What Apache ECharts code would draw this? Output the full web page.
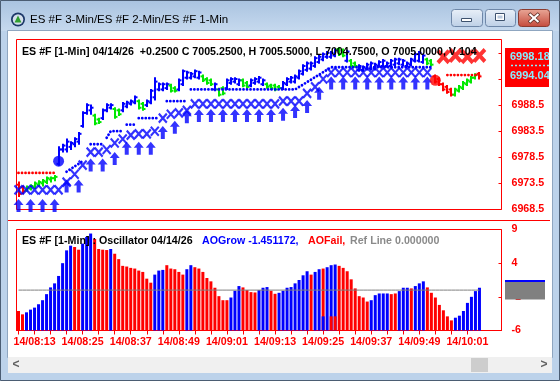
<!DOCTYPE html>
<html><head><meta charset="utf-8">
<script src="https://cdn.jsdelivr.net/npm/echarts@6/dist/echarts.min.js"></script>
<style>html,body{margin:0;padding:0;background:#bcd2ea;overflow:hidden}#c{width:560px;height:381px}</style>
</head><body><div id="c"></div>
<script>
// ---------- DATA ----------
const X_LABELS = ['14/08:13','14/08:25','14/08:37','14/08:49','14/09:01','14/09:13','14/09:25','14/09:37','14/09:49','14/10:01'];
const PRICE_TICKS = [6968.5, 6973.5, 6978.5, 6983.5, 6988.5, 6993.5, 6998.5];
const OSC_TICKS = [-6, -1, 4, 9];

const BAR_HIGH = [6973.75,6973.0,6973.0,6973.25,6973.75,6974.0,6974.25,6974.75,6974.75,6975.0,
6980.5,6981.0,6982.0,6981.5,6982.25,6983.25,6987.25,6988.75,6988.5,6986.75,
6986.0,6987.75,6988.75,6988.75,6988.0,6987.75,6989.0,6989.25,6989.5,6990.25,
6989.5,6989.0,6989.5,6991.5,6993.75,6992.75,6992.75,6992.75,6992.5,6992.0,
6993.5,6995.25,6995.0,6994.75,6995.25,6995.0,6994.25,6993.75,6993.5,6992.75,
6991.75,6992.0,6993.5,6993.75,6993.75,6993.5,6993.5,6993.0,6993.5,6993.75,
6994.0,6993.5,6992.75,6992.5,6992.5,6992.25,6993.0,6993.75,6994.0,6994.25,
6995.25,6996.25,6996.75,6996.75,6997.75,6998.0,6998.5,6998.75,6998.75,6999.25,
6999.5,6999.25,6999.0,6997.25,6996.75,6996.25,6996.0,6996.5,6996.75,6996.5,
6997.0,6997.25,6996.75,6997.25,6997.5,6997.5,6997.25,6996.75,6997.5,6998.5,
6998.75,6998.25,6997.5,6997.25,6994.25,6993.75,6992.75,6992.25,6991.75,6991.75,
6992.25,6993.0,6993.5,6994.0,6994.5,6994.75];
const BAR_LOW = [6971.0,6971.5,6972.0,6972.25,6972.5,6973.0,6973.0,6973.5,6973.75,6974.0,
6977.0,6979.5,6979.5,6980.0,6980.5,6981.0,6984.25,6986.75,6986.75,6984.75,
6985.0,6985.75,6987.25,6987.75,6986.0,6986.5,6987.25,6988.0,6988.5,6988.75,
6987.75,6987.5,6988.25,6988.75,6989.5,6991.25,6991.25,6991.5,6991.0,6991.0,
6991.25,6992.25,6993.5,6993.5,6993.75,6993.5,6993.0,6992.5,6992.25,6991.25,
6990.25,6990.5,6991.5,6992.5,6992.75,6992.25,6992.0,6991.75,6992.0,6992.5,
6992.75,6992.25,6991.75,6991.5,6991.25,6991.5,6991.5,6992.25,6992.75,6992.75,
6993.5,6994.25,6995.0,6995.25,6995.75,6996.5,6997.0,6997.5,6997.5,6997.75,
6998.0,6997.75,6996.75,6995.75,6995.75,6995.0,6995.0,6995.25,6995.25,6995.25,
6995.75,6995.75,6995.75,6995.75,6996.0,6996.25,6996.0,6995.75,6996.0,6996.75,
6996.75,6996.5,6996.25,6996.0,6992.75,6992.25,6991.25,6990.75,6990.25,6990.25,
6991.0,6991.5,6992.25,6992.75,6993.5,6993.5];
const BAR_OPEN = [6973.25,6972.75,6972.25,6972.5,6972.75,6973.25,6973.5,6973.75,6974.25,6974.5,
6977.25,6980.0,6980.0,6980.5,6981.0,6981.5,6984.5,6987.0,6987.5,6986.5,
6985.75,6986.0,6987.5,6988.0,6987.75,6987.5,6987.5,6988.25,6988.75,6989.0,
6989.25,6988.75,6988.5,6989.0,6990.0,6991.5,6991.5,6991.75,6992.25,6991.75,
6991.5,6992.5,6993.75,6993.75,6994.0,6993.75,6994.0,6993.5,6993.25,6991.5,
6991.5,6991.75,6991.75,6992.75,6993.0,6992.5,6993.25,6992.75,6992.25,6992.75,
6993.0,6992.5,6992.5,6992.25,6992.25,6992.0,6991.75,6992.5,6993.0,6993.0,
6993.75,6994.5,6995.25,6995.5,6996.0,6996.75,6997.25,6997.75,6997.75,6998.0,
6999.25,6999.0,6997.0,6997.0,6996.5,6995.25,6995.25,6995.5,6995.5,6995.5,
6996.0,6996.0,6996.0,6996.0,6996.25,6996.5,6996.25,6996.0,6996.25,6997.0,
6997.0,6996.75,6997.25,6997.0,6994.0,6993.5,6992.5,6992.0,6991.5,6990.5,
6991.25,6991.75,6992.5,6993.0,6993.75,6994.5];
const BAR_CLOSE = [6971.5,6972.0,6972.75,6973.0,6973.5,6973.75,6974.0,6974.5,6974.5,6974.75,
6980.0,6980.75,6981.5,6981.25,6982.0,6983.0,6987.0,6988.5,6988.0,6985.0,
6985.25,6987.5,6988.5,6988.5,6986.25,6986.75,6988.75,6989.0,6989.25,6990.0,
6988.0,6987.75,6989.25,6991.25,6993.0,6992.5,6992.5,6992.5,6991.25,6991.25,
6993.25,6995.0,6994.75,6994.5,6995.0,6994.75,6993.25,6992.75,6992.5,6992.5,
6990.5,6990.75,6993.25,6993.5,6993.5,6993.25,6992.25,6992.0,6993.25,6993.5,
6993.75,6993.25,6992.0,6991.75,6991.5,6991.75,6992.75,6993.5,6993.75,6994.0,
6995.0,6996.0,6996.5,6996.5,6997.5,6997.75,6998.25,6998.5,6998.5,6999.0,
6998.25,6998.0,6998.75,6996.0,6996.0,6996.0,6995.75,6996.25,6996.5,6996.25,
6996.75,6997.0,6996.5,6997.0,6997.25,6997.25,6997.0,6996.5,6997.25,6998.25,
6998.5,6998.0,6996.5,6996.25,6993.0,6992.5,6991.5,6991.0,6990.5,6991.5,
6992.0,6992.75,6993.25,6993.75,6994.25,6994.0];
// B = blue, G = green, R = red
const BAR_COLOR = ('RR'+'GGGGGGGG'+'BBBBBBBBB'+'GG'+'BBB'+'GG'+'BBBB'+'GG'+'BBBBBB'+'GG'+'BBBBBB'+'GGG'+'B'+'GG'+
  'BBBB'+'GG'+'BBBB'+'GGGG'+'BBBBBBBBBBBBBB'+'GG'+'B'+'GG'+'BBBBBBBBBBBBBBBBB'+'GG'+'RRRRR'+'GGGGGG'+'R').split('');

// dotted level lines: [bar index, price]
const DOT_BLUE_SEGS = [
  [[12,6975.75],[16,6977.75]],
  [[18,6981.0],[21,6981.0]],
  [[22,6982.25],[23,6983.5],[26,6983.5]],
  [[27,6984.75],[29,6984.75]],
  [[30,6986.0],[35,6986.0]],
  [[37,6989.25],[42,6989.25]],
  [[43,6991.5],[69,6991.5],[78,6995.75],[103,6995.75]]
];
const DOT_RED_SEGS = [
  [[0,6975.5],[9,6975.5]],
  [[107,6994.25],[115,6994.25]]
];
// 2-min cross chain
const CROSS_BLUE = [[0,6972.25],[2,6972.25],[4,6972.25],[6,6972.25],[8,6972.25],[10,6972.25],
  [12,6973.75],[14,6975.25],[16,6977.0],[18,6979.5],[20,6979.5],[22,6980.0],
  [24,6981.25],[26,6982.0],[28,6982.75],[30,6983.0],[32,6983.0],[34,6983.5],
  [36,6986.0],[38,6986.75],[40,6987.0],[42,6987.5],
  [44,6988.75],[46,6988.75],[48,6988.75],[50,6988.75],[52,6988.75],[54,6988.75],[56,6988.75],[58,6988.75],[60,6988.75],[62,6988.75],[64,6988.75],
  [66,6989.25],[68,6989.25],[70,6989.25],[72,6990.75],[74,6992.0],[76,6993.5],
  [78,6994.75],[80,6994.75],[82,6994.75],[84,6994.75],[86,6994.75],[88,6994.75],[90,6994.75],[92,6994.75],[94,6994.75],[96,6994.75],[98,6994.75],[100,6994.75],[102,6994.75]];
const CROSS_RED = [[106,6997.75],[109,6998.0],[112,6997.75],[115,6998.0]];
// 3-min up arrows: [bar index, tip price]
const ARROWS = [[0,6970.5],[3,6970.5],[6,6970.5],[9,6970.5],
  [12,6974.25],[15,6974.25],[18,6978.25],[21,6978.25],[24,6979.5],
  [27,6981.5],[30,6981.5],[33,6981.5],[36,6984.5],[39,6985.5],[42,6987.5],
  [45,6987.75],[48,6987.75],[51,6987.75],[54,6987.75],[57,6987.75],[60,6987.75],[63,6987.75],
  [66,6988.0],[69,6988.5],[72,6989.5],[75,6992.0],
  [78,6994.0],[81,6994.0],[84,6994.0],[87,6994.0],[90,6994.0],[93,6994.0],[96,6994.0],[99,6994.0],[102,6994.0]];
const DOT_BIG_BLUE = [[10,6977.75]];
const DOT_BIG_RED = [[104,6993.25]];

const OSC_VALUES = [-3.1,-3.6,-3.3,-2.9,-2.6,-2.1,-1.5,-0.6,0.4,1.0,
 2.1,4.0,5.9,6.6,6.4,6.0,6.9,7.9,8.4,7.6,
 6.1,6.0,5.95,6.1,5.4,4.6,3.6,3.5,3.3,3.2,
 2.9,2.7,1.7,1.1,2.3,2.9,3.0,3.7,3.2,3.1,
 2.7,2.3,3.1,3.7,3.4,3.2,2.7,1.8,1.3,0.35,
 -0.9,-1.5,-1.5,-1.1,-0.1,0.6,0.4,0.0,-0.3,-0.35,
 0.0,0.35,0.45,-0.1,-0.55,-0.4,-0.1,0.35,0.45,1.0,
 1.5,2.2,2.8,2.3,2.7,3.1,3.2,3.4,3.7,3.8,
 3.6,3.3,2.8,1.6,0.25,-0.9,-1.1,-1.7,-1.5,-0.75,
 -0.5,-0.5,-0.5,-0.6,-0.5,-0.15,0.35,0.35,0.25,0.6,
 1.0,1.3,0.4,-0.4,-1.1,-2.2,-3.0,-3.9,-4.5,-4.1,
 -3.8,-3.1,-1.9,-1.0,-0.15,0.35];
const OSC_COLOR = ('RR'+'BBBBBBBBBBBB'+'RR'+'BBB'+'RRRR'+'B'+'RRRRRRRRRR'+'BBB'+'RRRRR'+'BB'+'RRRRRRRRR'+'BBB'+'RRRR'+
  'BBB'+'RR'+'BBBBBBBB'+'R'+'BB'+'R'+'BBB'+'RRRRRRRR'+'BBBBB'+'RR'+'BBB'+'R'+'BBB'+'RRRRRRR'+'BBBBBBB').split('');
const OSC_OVERLAY = [[76,-3.9,'B'],[78,-3.9,'R'],[79,-3.9,'R']];
const REF_LINE = 0;

// ---------- BUILD ----------
const N_SLOTS = 121, START_MIN = 8*60+9;
const pad = n => (n<10?'0':'')+n;
const CATS = [];
for (let k=0;k<N_SLOTS;k++){const m=START_MIN+k;CATS.push('14/'+pad(Math.floor(m/60))+':'+pad(m%60));}
const COL = {B:'#0000ff', G:'#00e800', R:'#ff0000'};
const OSC_MIN = OSC_TICKS[0];
const P_MIN = 6968.5, P_MAX = 7001.07;
const FONT = 'Arial, "Liberation Sans", sans-serif';

const ohlc = BAR_HIGH.map((h,i)=>[i, BAR_OPEN[i], h, BAR_LOW[i], BAR_CLOSE[i]]);

const series = [];
series.push({
  type:'custom', xAxisIndex:0, yAxisIndex:0, data: ohlc, encode:{x:0,y:[1,2,3,4]}, z:2,
  renderItem:(params, api)=>{
    const i=api.value(0);
    const pO=api.coord([i,api.value(1)]), pH=api.coord([i,api.value(2)]), pL=api.coord([i,api.value(3)]), pC=api.coord([i,api.value(4)]);
    const x=Math.round(pH[0]);
    const c=COL[BAR_COLOR[params.dataIndex]];
    const st={stroke:c, lineWidth:2};
    return {type:'group', children:[
      {type:'line', shape:{x1:x, y1:pH[1]-0.5, x2:x, y2:pL[1]+0.5}, style:st},
      {type:'line', shape:{x1:x-2.5, y1:pO[1], x2:x, y2:pO[1]}, style:st},
      {type:'line', shape:{x1:x, y1:pC[1], x2:x+2.5, y2:pC[1]}, style:st}
    ]};
  }
});
const dotStyle = c => ({color:c, width:2.8, type:[0.01,3.5], cap:'round'});
DOT_BLUE_SEGS.forEach(seg=>series.push({type:'line', xAxisIndex:0, yAxisIndex:0, data:seg, showSymbol:false, lineStyle:dotStyle('#0000ff'), z:3}));
DOT_RED_SEGS.forEach(seg=>series.push({type:'line', xAxisIndex:0, yAxisIndex:0, data:seg, showSymbol:false, lineStyle:dotStyle('#ff0000'), z:3}));
series.push({type:'scatter', xAxisIndex:0, yAxisIndex:0, data:CROSS_BLUE, symbol:'path://M0,0L8,8M8,0L0,8', symbolSize:[8,9],
  itemStyle:{color:'transparent', borderColor:'#0000ff', borderWidth:2.2}, z:4});
series.push({type:'scatter', xAxisIndex:0, yAxisIndex:0, data:ARROWS, symbol:'path://M5,0L10,6L7,6L7,13L3,13L3,6L0,6Z',
  symbolSize:[10,13], symbolOffset:[0,'50%'], itemStyle:{color:'#0000ff'}, z:5});
series.push({type:'scatter', xAxisIndex:0, yAxisIndex:0, data:CROSS_RED, symbol:'path://M0,0L8,8M8,0L0,8', symbolSize:[11,12],
  itemStyle:{color:'transparent', borderColor:'#ff0000', borderWidth:4}, z:5});
series.push({type:'scatter', xAxisIndex:0, yAxisIndex:0, data:DOT_BIG_BLUE, symbol:'circle', symbolSize:11, itemStyle:{color:'#0000ff'}, z:6});
series.push({type:'scatter', xAxisIndex:0, yAxisIndex:0, data:DOT_BIG_RED, symbol:'circle', symbolSize:11, itemStyle:{color:'#ff0000'}, z:6});

series.push({type:'bar', xAxisIndex:1, yAxisIndex:1, barWidth:3, z:2,
  data: OSC_VALUES.map((v,i)=>({value:v-OSC_MIN, itemStyle:{color:COL[OSC_COLOR[i]]}}))});
const ov = new Array(OSC_VALUES.length).fill(null);
OSC_OVERLAY.forEach(o=>{ov[o[0]]={value:o[1]-OSC_MIN, itemStyle:{color:COL[o[2]]}};});
series.push({type:'bar', xAxisIndex:1, yAxisIndex:1, barWidth:3, barGap:'-100%', z:3, data: ov});
series.push({type:'line', xAxisIndex:1, yAxisIndex:1, showSymbol:false, z:4,
  data: OSC_VALUES.map(()=>REF_LINE-OSC_MIN), lineStyle:{color:'#808080', width:1}});

const redLbl = {color:'#ff0000', fontWeight:'bold', fontSize:10.67, fontFamily:FONT};

// ---------- CHROME ----------
const G = echarts.graphic;
const graphic = [
  {type:'rect', z:-10, shape:{x:0,y:0,width:560,height:31}, style:{fill:new G.LinearGradient(0,0,0,1,[{offset:0,color:'#a9c3e0'},{offset:1,color:'#c6d9ee'}])}},
  {type:'rect', z:-10, shape:{x:8,y:31,width:544,height:326}, style:{fill:'#ffffff'}},
  {type:'rect', z:-9, shape:{x:7.5,y:30.5,width:545,height:327}, style:{fill:'none', stroke:'#8fa6c0', lineWidth:1}},
  {type:'rect', z:-9, shape:{x:0.5,y:0.5,width:559,height:380}, style:{fill:'none', stroke:'#4b5d73', lineWidth:1}},
  // icon
  {type:'circle', z:60, shape:{cx:18,cy:19.5,r:7}, style:{fill:'#1c3768'}},
  {type:'circle', z:60, shape:{cx:18,cy:19.5,r:5.3}, style:{fill:'#d4dfeb'}},
  {type:'polygon', z:61, shape:{points:[[18,15.5],[21.5,22.5],[14.5,22.5]]}, style:{fill:'#30a030'}},
  {type:'text', z:60, style:{x:30, y:20, text:'ES #F 3-Min/ES #F 2-Min/ES #F 1-Min', font:'11.5px "Liberation Sans", Arial, sans-serif', fill:'#000', verticalAlign:'middle'}},
  // buttons
  {type:'rect', z:60, shape:{x:451.5,y:9.5,width:31,height:17,r:3}, style:{fill:new G.LinearGradient(0,0,0,1,[{offset:0,color:'#e9f0f8'},{offset:1,color:'#bccfe6'}]), stroke:'#6e87a8'}},
  {type:'rect', z:61, shape:{x:461.5,y:18.5,width:10,height:3}, style:{fill:'#ffffff', stroke:'#3d526e'}},
  {type:'rect', z:60, shape:{x:485.5,y:9.5,width:30,height:17,r:3}, style:{fill:new G.LinearGradient(0,0,0,1,[{offset:0,color:'#e9f0f8'},{offset:1,color:'#bccfe6'}]), stroke:'#6e87a8'}},
  {type:'rect', z:61, shape:{x:495.5,y:13.5,width:9,height:7}, style:{fill:'#ffffff', stroke:'#3d526e'}},
  {type:'rect', z:62, shape:{x:497.5,y:15.5,width:5,height:3}, style:{fill:'#b9c9dc'}},
  {type:'rect', z:60, shape:{x:518.5,y:9.5,width:31,height:17,r:3}, style:{fill:new G.LinearGradient(0,0,0,1,[{offset:0,color:'#e9a898'},{offset:1,color:'#c4493a'}]), stroke:'#8b3b30'}},
  {type:'polyline', z:61, shape:{points:[[529,13.5],[539,22.5]]}, style:{stroke:'#5a2a22', lineWidth:3.6}},
  {type:'polyline', z:61, shape:{points:[[539,13.5],[529,22.5]]}, style:{stroke:'#5a2a22', lineWidth:3.6}},
  {type:'polyline', z:62, shape:{points:[[529.5,14],[538.5,22]]}, style:{stroke:'#ffffff', lineWidth:2.2}},
  {type:'polyline', z:62, shape:{points:[[538.5,14],[529.5,22]]}, style:{stroke:'#ffffff', lineWidth:2.2}},
  // scrollbar
  {type:'rect', z:60, shape:{x:8,y:357,width:544,height:16}, style:{fill:'#f0f0f0'}},
  {type:'rect', z:61, shape:{x:471,y:358,width:17,height:14}, style:{fill:'#cdcdcd'}},
  {type:'text', z:61, style:{x:16, y:365, text:'<', font:'bold 12px '+FONT, fill:'#606060', align:'center', verticalAlign:'middle'}},
  {type:'text', z:61, style:{x:544, y:365, text:'>', font:'bold 12px '+FONT, fill:'#606060', align:'center', verticalAlign:'middle'}},
  {type:'rect', z:60, shape:{x:1,y:373,width:558,height:7}, style:{fill:'#bcd2ea'}},
  // pane separator
  {type:'line', z:5, shape:{x1:8,y1:220.5,x2:550,y2:220.5}, style:{stroke:'#ff0000', lineWidth:1}},
  // pane titles
  {type:'text', z:50, style:{x:22, y:52, text:'ES #F [1-Min] 04/14/26  +0.2500 C 7005.2500, H 7005.5000, L 7004.7500, O 7005.0000, V 104', font:'bold 10.67px '+FONT, fill:'#000', verticalAlign:'middle'}},
  {type:'text', z:50, style:{x:22, y:241, text:'ES #F [1-Min] : Oscillator 04/14/26', font:'bold 10.67px '+FONT, fill:'#000', verticalAlign:'middle'}},
  {type:'text', z:50, style:{x:202, y:241, text:'AOGrow -1.451172,', font:'bold 10.67px '+FONT, fill:'#0000ff', verticalAlign:'middle'}},
  {type:'text', z:50, style:{x:308, y:241, text:'AOFail,', font:'bold 10.67px '+FONT, fill:'#ff0000', verticalAlign:'middle'}},
  {type:'text', z:50, style:{x:350, y:241, text:'Ref Line 0.000000', font:'bold 10.67px '+FONT, fill:'#8a8a8a', verticalAlign:'middle'}},
  // price markers
  {type:'rect', z:50, shape:{x:505,y:48,width:44,height:39}, style:{fill:'#ff0000'}},
  {type:'text', z:51, style:{x:510, y:57, text:'6998.18', font:'bold 11px '+FONT, fill:'#88eeff', verticalAlign:'middle'}},
  {type:'line', z:51, shape:{x1:511,y1:65.5,x2:549,y2:65.5}, style:{stroke:'#88eeff', lineWidth:1.5, lineDash:[2,2]}},
  {type:'text', z:51, style:{x:510, y:76, text:'6994.04', font:'bold 11px '+FONT, fill:'#88eeff', verticalAlign:'middle'}},
  {type:'rect', z:52, shape:{x:549,y:46,width:3,height:44}, style:{fill:'#ffffff'}},
  // oscillator markers
  {type:'rect', z:50, shape:{x:505,y:281.5,width:40,height:18}, style:{fill:'#808080'}},
  {type:'rect', z:51, shape:{x:505,y:280,width:40,height:2}, style:{fill:'#0000ff'}}
];

const chart = echarts.init(document.getElementById('c'), null, {renderer:'canvas'});
chart.setOption({
  animation:false,
  backgroundColor:'#bcd2ea',
  graphic: graphic,
  grid:[
    {left:16.5, top:39.5, width:485, height:170, show:true, borderColor:'#ff0000', borderWidth:1, backgroundColor:'transparent'},
    {left:16.5, top:229.5, width:485, height:101, show:true, borderColor:'#ff0000', borderWidth:1, backgroundColor:'transparent'}
  ],
  xAxis:[
    {type:'category', gridIndex:0, data:CATS, boundaryGap:true, axisLine:{show:false}, axisTick:{show:false}, axisLabel:{show:false}, splitLine:{show:false}},
    {type:'category', gridIndex:1, data:CATS, boundaryGap:true,
      axisLine:{show:true, lineStyle:{color:'#ff0000'}},
      axisTick:{show:true, alignWithLabel:true, length:4, lineStyle:{color:'#ff0000'}, interval:(i)=> i%4===0 && i<OSC_VALUES.length},
      axisLabel:Object.assign({margin:6, interval:(i)=> X_LABELS.indexOf(CATS[i])>=0}, redLbl),
      splitLine:{show:false}}
  ],
  yAxis:[
    {type:'value', gridIndex:0, position:'right', min:P_MIN, max:P_MAX, splitLine:{show:false},
      axisLine:{show:false},
      axisTick:{show:true, inside:true, length:3, lineStyle:{color:'#ff0000'}, customValues:PRICE_TICKS},
      axisLabel:Object.assign({margin:10, customValues:PRICE_TICKS, formatter:v=>Number(v).toFixed(1)}, redLbl)},
    {type:'value', gridIndex:1, position:'right', min:0, max:OSC_TICKS[3]-OSC_MIN, interval:5, splitLine:{show:false},
      axisLine:{show:false},
      axisTick:{show:true, inside:true, length:3, lineStyle:{color:'#ff0000'}},
      axisLabel:Object.assign({margin:10, formatter:v=>String(Math.round(v+OSC_MIN))}, redLbl)}
  ],
  series: series
});
</script></body></html>
